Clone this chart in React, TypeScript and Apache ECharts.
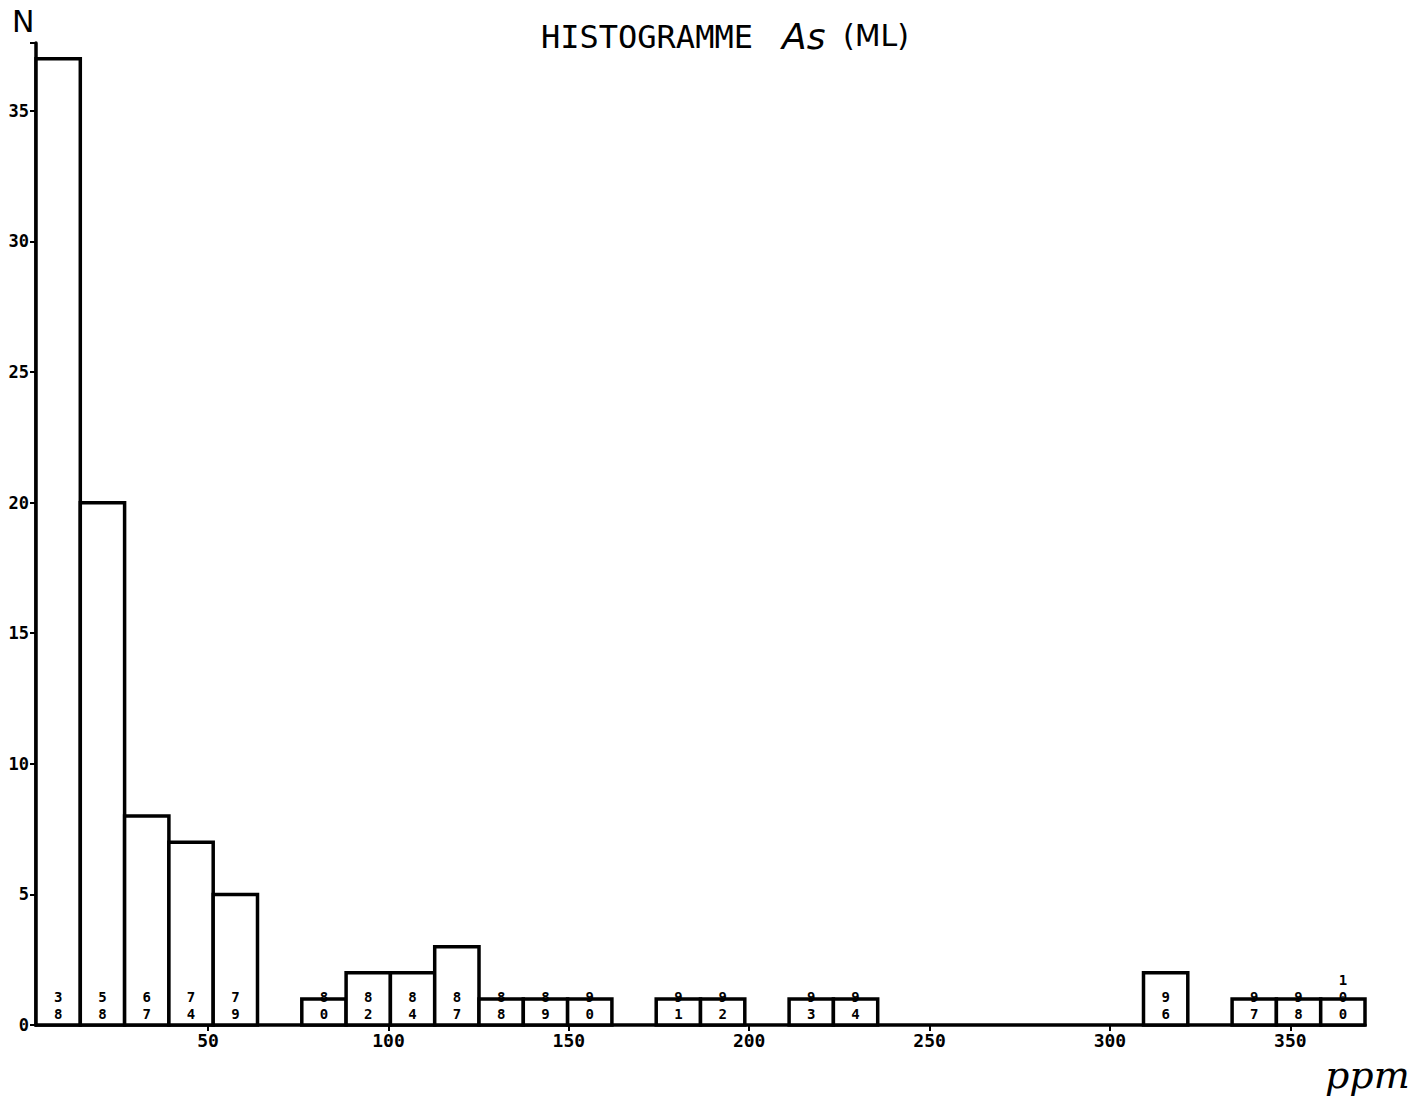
import React, { useEffect, useRef } from "react";
import * as echarts from "echarts";

// Histogram of As (ppm): 30 equal bins from xMin to xMax
const xMin = 2.3;
const xMax = 370.7;
const counts = [37, 20, 8, 7, 5, 0, 1, 2, 2, 3, 1, 1, 1, 0, 1, 1, 0, 1, 1, 0, 0, 0, 0, 0, 0, 2, 0, 1, 1, 1];
// cumulative percentage written inside each non-empty bar
const cumLabels = ["38", "58", "67", "74", "79", "", "80", "82", "84", "87", "88", "89", "90", "", "91", "92", "", "93", "94", "", "", "", "", "", "", "96", "", "97", "98", "100"];
const xTickValues = [50, 100, 150, 200, 250, 300, 350];
const yMax = 37.6;

const MONO = "'DejaVu Sans Mono', monospace";

export default function App() {
  const ref = useRef<HTMLDivElement>(null);
  useEffect(() => {
    if (!ref.current) return;
    const chart = echarts.init(ref.current, null, { renderer: "svg" });
    const w = (xMax - xMin) / counts.length;
    const data = counts.map((c, i) => [xMin + i * w, xMin + (i + 1) * w, c, cumLabels[i]]);
    chart.setOption({
      animation: false,
      backgroundColor: "#ffffff",
      grid: { left: 36, right: 52, top: 43, bottom: 81, containLabel: false },
      xAxis: {
        type: "value",
        min: xMin,
        max: xMax,
        axisLine: { show: true, lineStyle: { color: "#000", width: 3.5 } },
        axisTick: { show: true, length: 6, customValues: xTickValues, lineStyle: { color: "#000", width: 2 } },
        axisLabel: {
          customValues: xTickValues,
          color: "#000",
          fontFamily: MONO,
          fontSize: 18,
          fontWeight: "bold",
          margin: 6,
        },
        splitLine: { show: false },
      },
      yAxis: {
        type: "value",
        min: 0,
        max: yMax,
        interval: 5,
        axisLine: { show: true, lineStyle: { color: "#000", width: 3.5 } },
        axisTick: { show: true, length: 6, lineStyle: { color: "#000", width: 2 } },
        axisLabel: {
          color: "#000",
          fontFamily: MONO,
          fontSize: 17,
          fontWeight: "bold",
          margin: 7,
          formatter: (v: number) => (v > 36 ? "" : String(v)),
        },
        splitLine: { show: false },
      },
      series: [
        {
          type: "custom",
          data,
          encode: { x: [0, 1], y: 2 },
          renderItem: (params: any, api: any) => {
            const c = api.value(2);
            if (!c) return { type: "group", children: [] };
            const p0 = api.coord([api.value(0), 0]);
            const p1 = api.coord([api.value(1), c]);
            const lbl = String(data[params.dataIndex][3]);
            return {
              type: "group",
              children: [
                {
                  type: "rect",
                  shape: { x: p0[0], y: p1[1], width: p1[0] - p0[0], height: p0[1] - p1[1] },
                  style: { fill: "#ffffff", stroke: "#000", lineWidth: 3.5 },
                },
                {
                  type: "text",
                  style: {
                    text: lbl.split("").join("\n"),
                    x: (p0[0] + p1[0]) / 2,
                    y: p0[1] - 3,
                    align: "center",
                    verticalAlign: "bottom",
                    font: `bold 14px ${MONO}`,
                    lineHeight: 17,
                    fill: "#000",
                  },
                },
              ],
            };
          },
        },
      ],
      graphic: [
        {
          type: "text",
          left: 541,
          top: 21,
          style: { text: "HISTOGRAMME", font: `32px ${MONO}`, fill: "#000" },
        },
        {
          type: "text",
          left: 782,
          top: 18,
          style: { text: "As", font: `italic 36px 'DejaVu Sans'`, fill: "#000" },
        },
        {
          type: "text",
          left: 843,
          top: 20,
          style: { text: "(ML)", font: `30px 'DejaVu Sans'`, fill: "#000" },
        },
        {
          type: "text",
          left: 12,
          top: 6,
          style: { text: "N", font: `30px 'DejaVu Sans'`, fill: "#000" },
        },
        {
          type: "text",
          left: 1325,
          top: 1056,
          style: { text: "ppm", font: `italic 38px 'DejaVu Serif'`, fill: "#000" },
        },
      ],
    });
    return () => chart.dispose();
  }, []);
  return (
    <div
      ref={ref}
      style={{ position: "fixed", left: 0, top: 0, width: 1417, height: 1106, background: "#fff" }}
    />
  );
}
